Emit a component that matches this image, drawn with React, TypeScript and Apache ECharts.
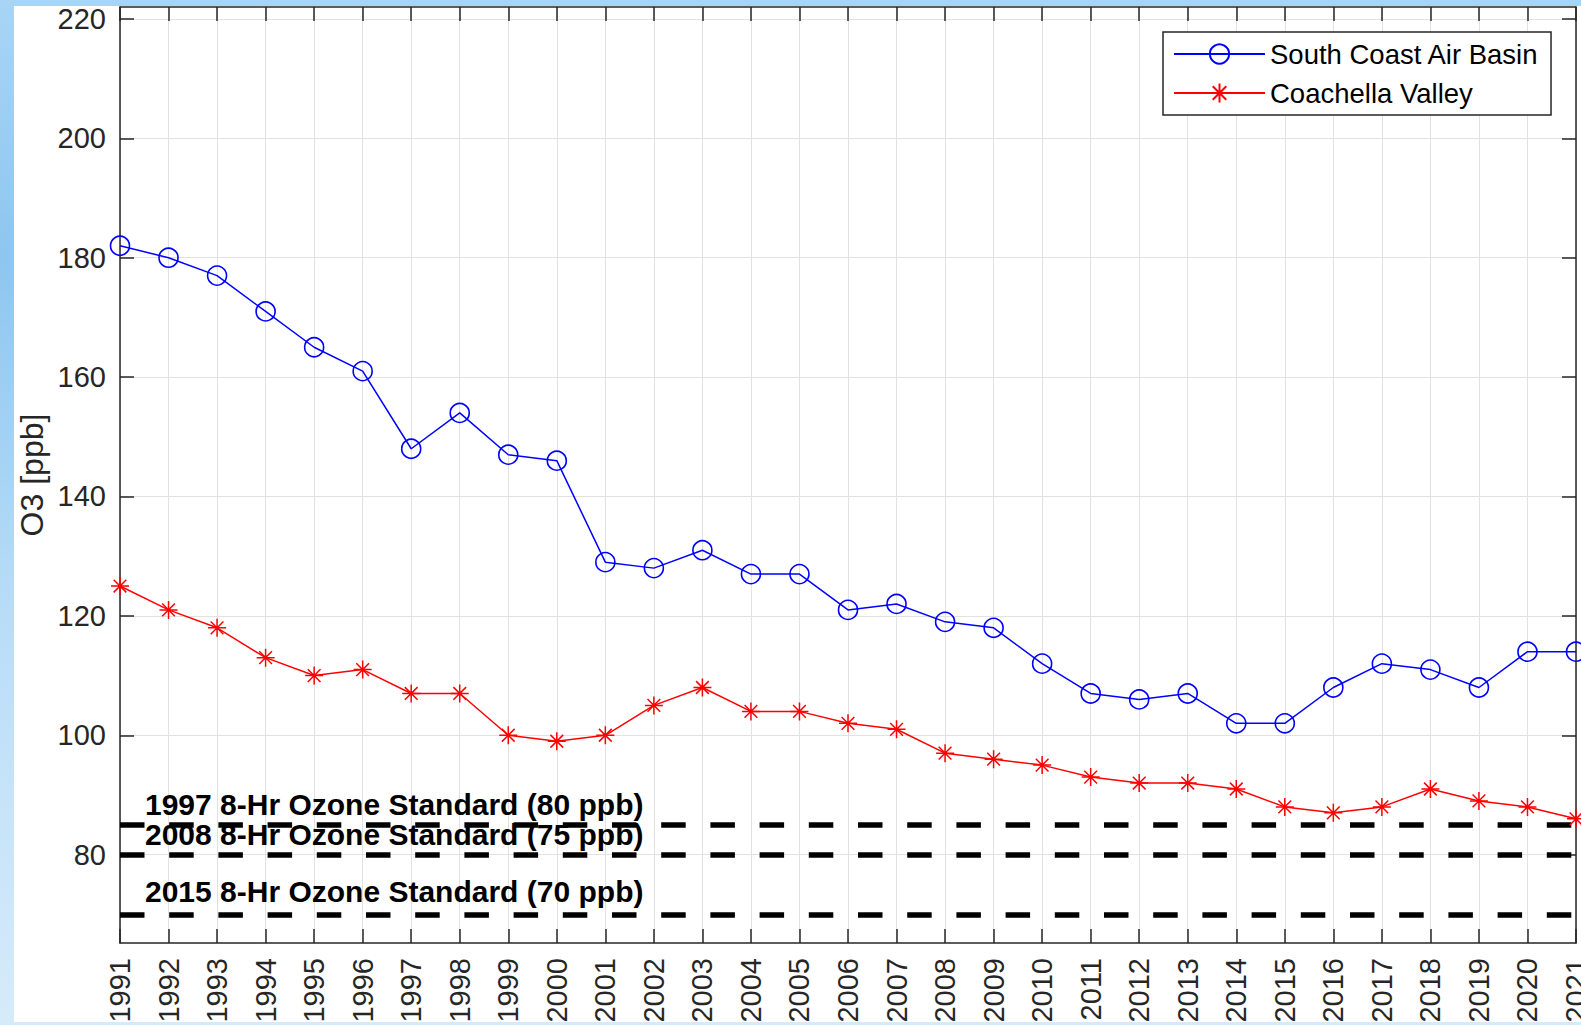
import React, { useEffect, useRef } from "react";
import * as echarts from "echarts";

const years = [1991, 1992, 1993, 1994, 1995, 1996, 1997, 1998, 1999, 2000, 2001, 2002, 2003, 2004, 2005, 2006, 2007, 2008, 2009, 2010, 2011, 2012, 2013, 2014, 2015, 2016, 2017, 2018, 2019, 2020, 2021];
const southCoast = [182, 180, 177, 171, 165, 161, 148, 154, 147, 146, 129, 128, 131, 127, 127, 121, 122, 119, 118, 112, 107, 106, 107, 102, 102, 108, 112, 111, 108, 114, 114];
const coachella = [125, 121, 118, 113, 110, 111, 107, 107, 100, 99, 100, 105, 108, 104, 104, 102, 101, 97, 96, 95, 93, 92, 92, 91, 88, 87, 88, 91, 89, 88, 86];
const standardLabels = ["1997 8-Hr Ozone Standard (80 ppb)", "2008 8-Hr Ozone Standard (75 ppb)", "2015 8-Hr Ozone Standard (70 ppb)"];
const standardLevels = [85, 80, 70];
const yTicks = [80, 100, 120, 140, 160, 180, 200, 220];

const AXIS = "#262626";
const GRID = "#e2e2e2";
const FONT = "Liberation Sans, Arial, Helvetica, sans-serif";
const STAR = "path://M0,-10L0,10M-10,0L10,0M-7.07,-7.07L7.07,7.07M-7.07,7.07L7.07,-7.07";

export default function App() {
  const ref = useRef<HTMLDivElement>(null);
  useEffect(() => {
    document.body.style.margin = "0";
    const chart = echarts.init(ref.current!, null, { renderer: "svg" });
    const yMin = 65.2;
    const yMax = 222;
    const labelDist = [5, 5, 8];
    chart.setOption({
      animation: false,
      backgroundColor: "transparent",
      textStyle: { fontFamily: FONT },
      grid: { left: 120, right: 5, top: 7, bottom: 82, containLabel: false, outerBoundsMode: "none" },
      legend: {
        orient: "vertical",
        left: 1163,
        top: 32,
        itemWidth: 91,
        itemHeight: 24,
        itemGap: 9,
        padding: [7, 12, 7, 10],
        backgroundColor: "#ffffff",
        borderColor: AXIS,
        borderWidth: 1.5,
        borderRadius: 0,
        textStyle: { fontSize: 27.5, color: "#000", lineHeight: 30, fontFamily: FONT },
        data: ["South Coast Air Basin", "Coachella Valley"],
      },
      xAxis: [
        {
          type: "value",
          min: 1991,
          max: 2021,
          interval: 1,
          axisLine: { show: true, onZero: false, lineStyle: { color: AXIS, width: 1.5 } },
          axisTick: { show: true, inside: true, length: 14, lineStyle: { color: AXIS, width: 1.5 } },
          axisLabel: {
            rotate: 90,
            margin: 15,
            fontSize: 29,
            color: AXIS,
            fontFamily: FONT,
            formatter: (v: number) => String(v),
          },
          splitLine: { show: true, lineStyle: { color: GRID, width: 1 } },
        },
        {
          type: "value",
          position: "top",
          min: 1991,
          max: 2021,
          interval: 1,
          axisLine: { show: true, onZero: false, lineStyle: { color: AXIS, width: 1.5 } },
          axisTick: { show: true, inside: true, length: 14, lineStyle: { color: AXIS, width: 1.5 } },
          axisLabel: { show: false },
          splitLine: { show: false },
        },
      ],
      yAxis: [
        {
          type: "value",
          min: yMin,
          max: yMax,
          name: "O3 [ppb]",
          nameLocation: "middle",
          nameGap: 73,
          nameRotate: 90,
          nameMoveOverlap: false,
          nameTextStyle: { fontSize: 32, color: AXIS, fontFamily: FONT, lineHeight: 30 },
          axisLine: { show: true, onZero: false, lineStyle: { color: AXIS, width: 1.5 } },
          axisTick: { show: true, inside: true, length: 14, customValues: yTicks, lineStyle: { color: AXIS, width: 1.5 } },
          axisLabel: {
            margin: 14,
            fontSize: 29,
            lineHeight: 24,
            color: AXIS,
            fontFamily: FONT,
            customValues: yTicks,
            formatter: (v: number) => String(v),
          },
          splitLine: { show: true, lineStyle: { color: GRID, width: 1 } },
        },
        {
          type: "value",
          position: "right",
          min: yMin,
          max: yMax,
          axisLine: { show: true, onZero: false, lineStyle: { color: AXIS, width: 1.5 } },
          axisTick: { show: true, inside: true, length: 14, customValues: yTicks, lineStyle: { color: AXIS, width: 1.5 } },
          axisLabel: { show: false },
          splitLine: { show: false },
        },
      ],
      series: [
        {
          name: "standards",
          type: "line",
          data: [],
          silent: true,
          markLine: {
            silent: true,
            symbol: "none",
            animation: false,
            lineStyle: { color: "#000", width: 5.5, type: [24.5, 24.7], cap: "butt" },
            emphasis: { disabled: true },
            data: standardLevels.map((lv, i) => ({
              yAxis: lv,
              label: {
                show: true,
                position: "insideStartTop",
                distance: [25, labelDist[i]],
                formatter: standardLabels[i],
                fontSize: 30,
                fontWeight: "bold",
                color: "#000",
                fontFamily: FONT,
              },
            })),
          },
        },
        {
          name: "South Coast Air Basin",
          type: "line",
          data: years.map((y, i) => [y, southCoast[i]]),
          symbol: "circle",
          symbolSize: 19,
          clip: false,
          color: "#0000ff",
          lineStyle: { color: "#0000ff", width: 1.5 },
          itemStyle: { color: "none", borderColor: "#0000ff", borderWidth: 1.6 },
          z: 5,
        },
        {
          name: "Coachella Valley",
          type: "line",
          data: years.map((y, i) => [y, coachella[i]]),
          symbol: STAR,
          symbolSize: 18,
          clip: false,
          color: "#ff0000",
          lineStyle: { color: "#ff0000", width: 1.5 },
          itemStyle: { color: "none", borderColor: "#ff0000", borderWidth: 1.5 },
          z: 5,
        },
      ],
    });
    return () => chart.dispose();
  }, []);

  return (
    <div
      style={{
        position: "relative",
        width: 1581,
        height: 1025,
        overflow: "hidden",
        background: "linear-gradient(180deg, #a9d5f5 0%, #8ec6ef 25%, #b9ddf7 60%, #d6ebfa 100%)",
      }}
    >
      <div style={{ position: "absolute", left: 14, top: 6, width: 1567, height: 1016, background: "#ffffff" }} />
      <div ref={ref} style={{ position: "absolute", left: 0, top: 0, width: 1581, height: 1025 }} />
    </div>
  );
}
